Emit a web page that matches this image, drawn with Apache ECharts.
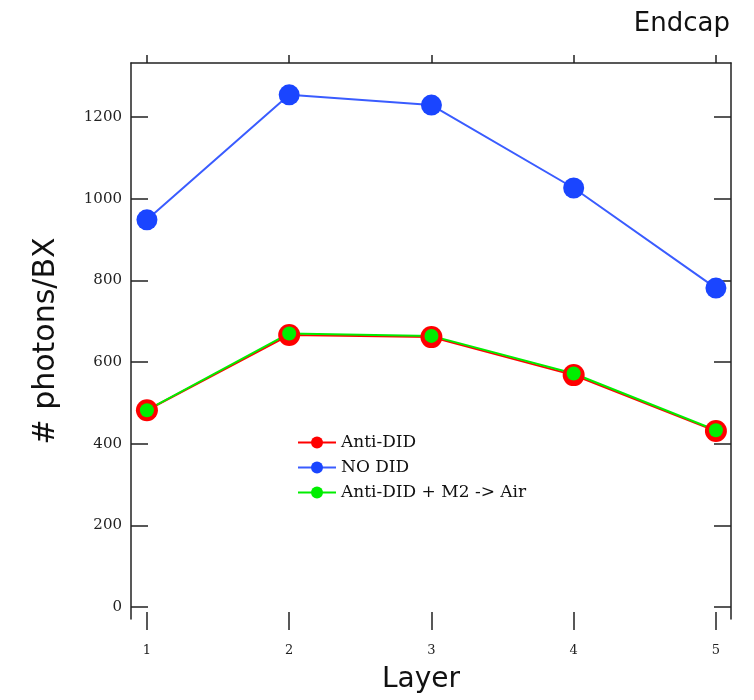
<!DOCTYPE html>
<html>
<head>
<meta charset="utf-8">
<script src="https://cdn.jsdelivr.net/npm/echarts@6/dist/echarts.min.js"></script>
<style>
  html, body { margin: 0; padding: 0; background: #fff; }
  #chart { width: 754px; height: 700px; }
</style>
</head>
<body>
<div id="chart"></div>
<script>
const layers = [1, 2, 3, 4, 5]
const yTicks = [0, 200, 400, 600, 800, 1000, 1200]
const antiDid = [482, 666, 661, 568, 431]
const noDid = [948, 1254, 1229, 1026, 781]
const antiDidAir = [482, 670, 664, 572, 433]

const serifFont = "DejaVu Serif"
const handFont = "DejaVu Sans"
const axisColor = "#222"

function pairs(values) {
  return layers.map((x, i) => [x, values[i]])
}

const myChart = echarts.init(document.getElementById("chart"))

const xCommon = {
  type: "value",
  min: 0.888,
  max: 5.106,
  splitLine: {show: false},
}

const yCommon = {
  type: "value",
  min: -29,
  max: 1332,
  splitLine: {show: false},
  axisLine: {show: true, onZero: false, lineStyle: {color: axisColor, width: 1.5}},
  axisTick: {customValues: yTicks, inside: true, length: 17, lineStyle: {color: axisColor, width: 1.5}},
}

myChart.setOption({
  animation: false,
  title: {
    text: "Endcap",
    right: 19,
    top: 6,
    textStyle: {fontFamily: handFont, fontWeight: "normal", fontSize: 26, color: "#111"},
  },
  grid: {left: 131, right: 23, top: 63, bottom: 81},
  legend: {
    orient: "vertical",
    left: 292,
    top: 429,
    itemWidth: 38,
    itemHeight: 15,
    itemGap: 8,
    textStyle: {fontFamily: serifFont, fontSize: 17, color: "#111"},
    data: ["Anti-DID", "NO DID", "Anti-DID + M2 -> Air"],
  },
  xAxis: [
    {
      ...xCommon,
      position: "bottom",
      offset: -7,
      name: "Layer",
      nameLocation: "middle",
      nameGap: 54,
      nameTextStyle: {fontFamily: handFont, fontSize: 28, color: "#111", padding: [0, 20, 0, 0]},
      axisLine: {show: false, onZero: false},
      axisTick: {customValues: layers, length: 18, lineStyle: {color: axisColor, width: 1.5}},
      axisLabel: {customValues: layers, margin: 32, fontFamily: serifFont, fontSize: 13, color: axisColor},
    },
    {
      ...xCommon,
      position: "top",
      axisLine: {show: true, onZero: false, lineStyle: {color: axisColor, width: 1.5}},
      axisTick: {customValues: layers, length: 8, lineStyle: {color: axisColor, width: 1.5}},
      axisLabel: {show: false},
    },
  ],
  yAxis: [
    {
      ...yCommon,
      position: "left",
      name: "# photons/BX",
      nameLocation: "middle",
      nameGap: 70,
      nameTextStyle: {fontFamily: handFont, fontSize: 30, color: "#111"},
      axisLabel: {
        customValues: yTicks,
        margin: 9,
        fontFamily: serifFont,
        fontSize: 15,
        color: axisColor,
        formatter: (v) => String(v),
      },
    },
    {
      ...yCommon,
      position: "right",
      axisLabel: {show: false},
    },
  ],
  series: [
    {
      name: "Anti-DID",
      type: "line",
      data: pairs(antiDid),
      symbol: "circle",
      symbolSize: 22,
      color: "#ff0000",
      lineStyle: {width: 2},
    },
    {
      name: "NO DID",
      type: "line",
      data: pairs(noDid),
      symbol: "circle",
      symbolSize: 21,
      color: "#1a45ff",
      lineStyle: {width: 2, color: "#3a5cff"},
    },
    {
      name: "Anti-DID + M2 -> Air",
      type: "line",
      data: pairs(antiDidAir),
      symbol: "circle",
      symbolSize: 14,
      color: "#00ee00",
      lineStyle: {width: 2},
    },
  ],
})
</script>
</body>
</html>
